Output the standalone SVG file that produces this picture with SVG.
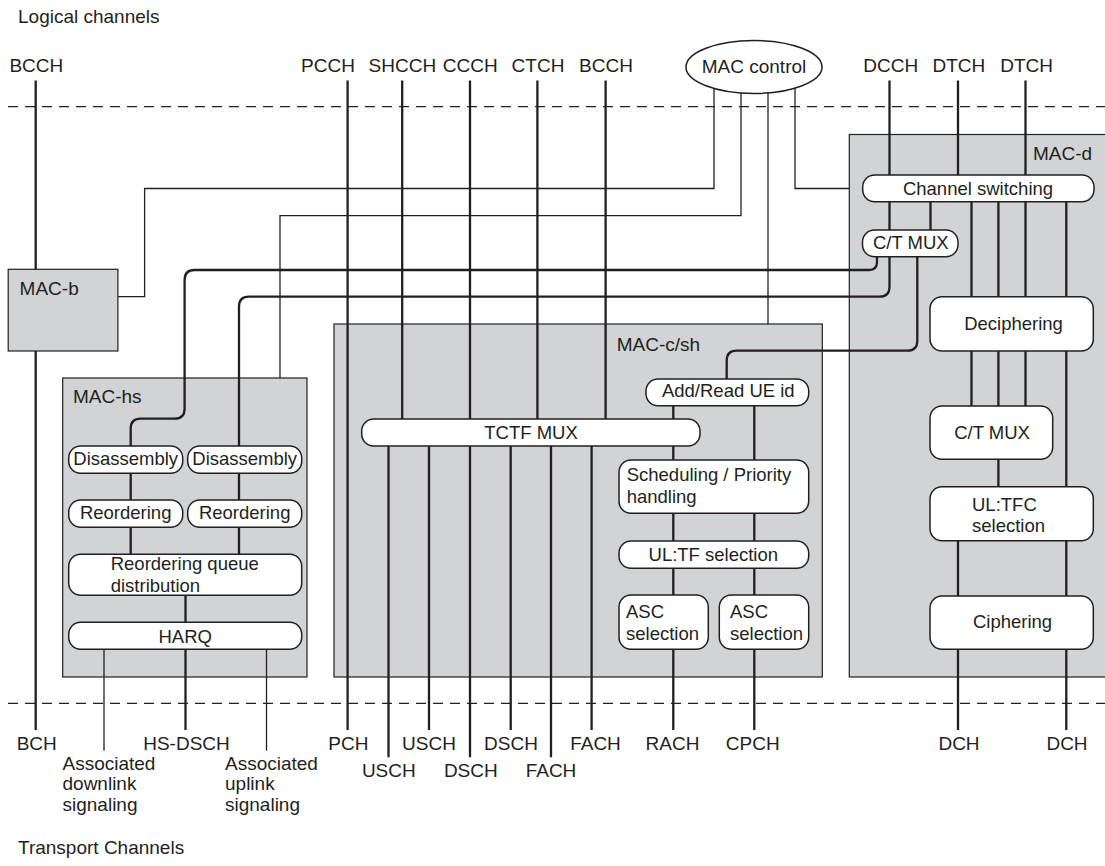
<svg xmlns="http://www.w3.org/2000/svg" width="1105" height="866" viewBox="0 0 1105 866">
<style>
text{font-family:"Liberation Sans",Arial,sans-serif;fill:#231f20;font-size:19px}
.c{text-anchor:middle}
.b{font-size:18.5px}
.grp{fill:#d1d3d4;stroke:#231f20;stroke-width:1.2}
.nd{fill:#fff;stroke:#231f20;stroke-width:1.5}
.th{fill:none;stroke:#231f20;stroke-width:2.3}
.tn{fill:none;stroke:#231f20;stroke-width:1.3}
.ds{fill:none;stroke:#231f20;stroke-width:1.3;stroke-dasharray:10 7}
</style>
<rect width="1105" height="866" fill="#fff"/>
<g id="titles">
<text x="18" y="23">Logical channels</text>
<text x="18" y="854">Transport Channels</text>
</g>
<g id="boundaries">
<line class="ds" x1="8" y1="106.7" x2="1105" y2="106.7"/>
<line class="ds" x1="8" y1="703.3" x2="1105" y2="703.3"/>
</g>
<g id="groups">
<g id="mac-b"><rect class="grp" x="8.2" y="269.3" width="109.7" height="81.7"/><text x="19.6" y="295">MAC-b</text></g>
<g id="mac-hs"><rect class="grp" x="62.7" y="378" width="244.3" height="299"/><text x="73" y="402.7">MAC-hs</text></g>
<g id="mac-csh"><rect class="grp" x="334" y="324" width="488.3" height="353"/><text x="616.7" y="350.7">MAC-c/sh</text></g>
<g id="mac-d"><rect class="grp" x="849.3" y="134.5" width="270" height="542.5"/><text x="1033" y="159.5">MAC-d</text></g>
</g>
<g id="connectors">
<path class="tn" d="M714,70 V188.5 H144.6 V296.7 H118"/>
<path class="tn" d="M741,70 V215.7 H280 V378"/>
<path class="tn" d="M768,70 V324"/>
<path class="tn" d="M795,70 V188.5 H849.3"/>
<path class="tn" d="M104,649.3 V750.7"/>
<path class="tn" d="M266.5,649.3 V750.7"/>
<path class="th" d="M35.7,80.5 V269.3 M35.7,351 V730"/>
<path class="th" d="M347.6,80.5 V730"/>
<path class="th" d="M402.2,80.5 V419 M470,80.5 V419 M537.4,80.5 V419 M605.6,80.5 V419"/>
<path class="th" d="M889.5,80.5 V175 M958,80.5 V175 M1025.5,80.5 V175"/>
<path class="th" d="M889.5,202 V230 M930.5,202 V230"/>
<path class="th" d="M971.5,202 V296.7 M998.4,202 V296.7 M1025.5,202 V296.7 M1066.3,202 V296.7"/>
<path class="th" d="M971.5,351 V406 M998.4,351 V406 M1025.5,351 V406 M1066.3,351 V486.7 M998.4,459.3 V486.7"/>
<path class="th" d="M958,540.7 V596 M1066.3,540.7 V596 M958,649.3 V730 M1066.3,649.3 V730"/>
<path class="th" d="M877,256.7 V262 Q877,270 869,270 H194.6 Q184.6,270 184.6,280 V408.7 Q184.6,418.7 174.6,418.7 H140.7 Q130.7,418.7 130.7,428.7 V446"/>
<path class="th" d="M889.5,256.7 V286.7 Q889.5,296.7 879.5,296.7 H249 Q239,296.7 239,306.7 V446"/>
<path class="th" d="M917.3,256.7 V340.7 Q917.3,350.7 907.3,350.7 H736.7 Q726.7,350.7 726.7,360.7 V379"/>
<path class="th" d="M130.7,473.3 V500 M239,473.3 V500 M130.7,527.3 V554.3 M239,527.3 V554.3 M185.5,595.3 V622.3 M185.5,649.3 V730"/>
<path class="th" d="M388.5,446 V757.3 M429,446 V730 M470,446 V757.3 M510.7,446 V730 M551,446 V757.3 M591.6,446 V730"/>
<path class="th" d="M673.3,405.7 V419 M673.3,446 V460 M754.3,405.7 V460"/>
<path class="th" d="M673.3,513.3 V541 M754.3,513.3 V541 M673.3,568.3 V595 M754.3,568.3 V595 M673.3,649.3 V730 M754.3,649.3 V730"/>
</g>
<g id="mac-control"><ellipse class="nd" cx="754" cy="67" rx="68" ry="26.5"/><text class="c" x="754" y="72.5">MAC control</text></g>
<g id="logical-labels">
<text class="c" x="36.3" y="72.3">BCCH</text>
<text class="c" x="328" y="72.3">PCCH</text>
<text class="c" x="402.4" y="72.3">SHCCH</text>
<text class="c" x="470.2" y="72.3">CCCH</text>
<text class="c" x="538" y="72.3">CTCH</text>
<text class="c" x="606" y="72.3">BCCH</text>
<text class="c" x="890.8" y="72.3">DCCH</text>
<text class="c" x="958.8" y="72.3">DTCH</text>
<text class="c" x="1026.6" y="72.3">DTCH</text>
</g>
<g id="transport-labels">
<text class="c" x="36.7" y="750">BCH</text>
<text class="c" x="186.5" y="750">HS-DSCH</text>
<text class="c" x="348.3" y="750">PCH</text>
<text class="c" x="429" y="750">USCH</text>
<text class="c" x="511" y="750">DSCH</text>
<text class="c" x="595.5" y="750">FACH</text>
<text class="c" x="672.5" y="750">RACH</text>
<text class="c" x="752.7" y="750">CPCH</text>
<text class="c" x="959" y="750">DCH</text>
<text class="c" x="1067" y="750">DCH</text>
<text class="c" x="388.8" y="777.3">USCH</text>
<text class="c" x="470.8" y="777.3">DSCH</text>
<text class="c" x="551" y="777.3">FACH</text>
<text x="62.5" y="770">Associated</text>
<text x="62.5" y="790.3">downlink</text>
<text x="62.5" y="810.7">signaling</text>
<text x="225" y="770">Associated</text>
<text x="225" y="790.3">uplink</text>
<text x="225" y="810.7">signaling</text>
</g>
<g id="disassembly-1"><rect class="nd" x="68.7" y="446" width="114" height="27.3" rx="12"/><text class="c b" x="125.7" y="465">Disassembly</text></g>
<g id="disassembly-2"><rect class="nd" x="187.7" y="446" width="114" height="27.3" rx="12"/><text class="c b" x="244.7" y="465">Disassembly</text></g>
<g id="reordering-1"><rect class="nd" x="68.7" y="500" width="114" height="27.3" rx="12"/><text class="c b" x="125.7" y="518.5">Reordering</text></g>
<g id="reordering-2"><rect class="nd" x="187.7" y="500" width="114" height="27.3" rx="12"/><text class="c b" x="244.7" y="518.5">Reordering</text></g>
<g id="reordering-queue"><rect class="nd" x="68.7" y="554.3" width="233" height="41" rx="12"/><text class="b" x="110.7" y="570">Reordering queue</text><text class="b" x="110.7" y="591.7">distribution</text></g>
<g id="harq"><rect class="nd" x="68.7" y="622.3" width="233" height="27" rx="12"/><text class="c b" x="185.2" y="642.5">HARQ</text></g>
<g id="tctf-mux"><rect class="nd" x="361.7" y="419" width="338.3" height="27" rx="12"/><text class="c b" x="531" y="438.5">TCTF MUX</text></g>
<g id="add-read-ue-id"><rect class="nd" x="646" y="379" width="162.7" height="26.7" rx="12"/><text class="c b" x="728.3" y="397">Add/Read UE id</text></g>
<g id="scheduling"><rect class="nd" x="619" y="460" width="189.7" height="53.3" rx="12"/><text class="b" x="626.7" y="481">Scheduling / Priority</text><text class="b" x="626.7" y="502.7">handling</text></g>
<g id="ul-tf-selection"><rect class="nd" x="619" y="541" width="189.7" height="27.3" rx="12"/><text class="c b" x="713.3" y="560.7">UL:TF selection</text></g>
<g id="asc-1"><rect class="nd" x="619" y="595" width="89.3" height="54.3" rx="12"/><text class="b" x="626" y="617.7">ASC</text><text class="b" x="626" y="640">selection</text></g>
<g id="asc-2"><rect class="nd" x="719.3" y="595" width="89.4" height="54.3" rx="12"/><text class="b" x="730" y="617.7">ASC</text><text class="b" x="730" y="640">selection</text></g>
<g id="channel-switching"><rect class="nd" x="862.7" y="175" width="231.3" height="26.7" rx="12"/><text class="c b" x="978" y="195">Channel switching</text></g>
<g id="ct-mux-1"><rect class="nd" x="862.5" y="230" width="95.5" height="26.7" rx="12"/><text class="c b" x="910.8" y="248.5">C/T MUX</text></g>
<g id="deciphering"><rect class="nd" x="930" y="296.7" width="163.3" height="54.3" rx="12"/><text class="c b" x="1013.5" y="330">Deciphering</text></g>
<g id="ct-mux-2"><rect class="nd" x="930" y="406" width="122.7" height="53.3" rx="12"/><text class="c b" x="992" y="438.5">C/T MUX</text></g>
<g id="ul-tfc-selection"><rect class="nd" x="930" y="486.7" width="163.3" height="54" rx="12"/><text class="b" x="972" y="510.7">UL:TFC</text><text class="b" x="972" y="531.7">selection</text></g>
<g id="ciphering"><rect class="nd" x="930" y="596" width="163.3" height="53.3" rx="12"/><text class="c b" x="1012.5" y="628.3">Ciphering</text></g>
</svg>
